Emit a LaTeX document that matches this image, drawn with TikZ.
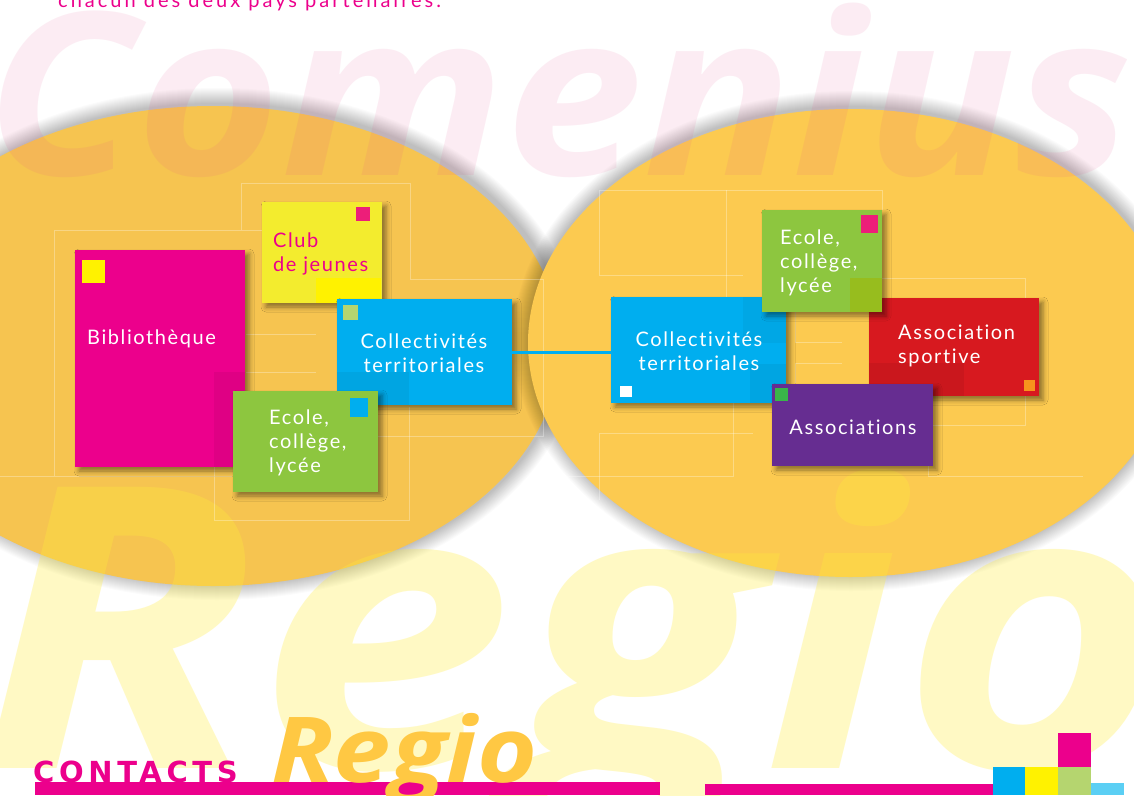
\documentclass[tikz,border=0pt]{standalone}
\usepackage{fontspec}
\usepackage{graphicx}
\setmainfont{Lato}
\newfontfamily\bigfont{Open Sans}
\newfontfamily\boxfont[LetterSpace=8,Ligatures=NoCommon]{Lato}
\newfontfamily\topfont[LetterSpace=15,Ligatures=NoCommon]{Lato}
\newfontfamily\contfont[LetterSpace=16]{DejaVu Sans}
\usetikzlibrary{shadows.blur}
\definecolor{mag}{HTML}{EC008C}
\definecolor{clubyel}{HTML}{F3EC2E}
\definecolor{puryel}{HTML}{FFF200}
\definecolor{cya}{HTML}{00AEEF}
\definecolor{grn}{HTML}{8DC63F}
\definecolor{rd}{HTML}{D7191F}
\definecolor{pur}{HTML}{662D91}
\definecolor{sqmag}{HTML}{ED1E79}
\definecolor{lgrn}{HTML}{B5D56F}
\definecolor{orng}{HTML}{F7941D}
\definecolor{sqgrn}{HTML}{39B54A}
\definecolor{olive}{HTML}{97BD1E}
\definecolor{ellL}{HTML}{F6C450}
\definecolor{ellR}{HTML}{FCCA50}
\definecolor{regsmall}{HTML}{FFC843}
\definecolor{lblue}{HTML}{5BCFF4}
\definecolor{cpink}{HTML}{E64C8C}
\definecolor{ryel}{HTML}{FFED3C}
\tikzset{
  box/.style={rectangle, inner sep=0pt, outer sep=0pt, anchor=north west,
    blur shadow={shadow xshift=4pt, shadow yshift=-4pt, shadow blur radius=5pt, shadow opacity=45}},
  txt/.style={font=\boxfont\fontsize{20}{24}\selectfont, text=white, inner sep=0pt, anchor=base west},
  faint/.style={draw=white, draw opacity=0.3, line width=0.7pt},
  glow/.style={fill=black, fill opacity=0.014}
}
\begin{document}
\begin{tikzpicture}[x=1pt, y=-1pt]
\useasboundingbox (0,0) rectangle (1134,795);
\clip (0,0) rectangle (1134,795);
\fill[white] (0,0) rectangle (1134,795);
% ellipses with soft glow
\foreach \i in {1,...,16} {
  \fill[glow] (217,344) ellipse [x radius={347+\i}, y radius={240+\i}];
}
\fill[ellL] (213,346) ellipse [x radius=347pt, y radius=240pt];
\foreach \i in {1,...,16} {
  \fill[glow] (851,341) ellipse [x radius={322+\i}, y radius={234+\i}];
}
\fill[ellR] (850,343) ellipse [x radius=322pt, y radius=234pt];
% big background words
\node[font=\bigfont\bfseries\itshape\fontsize{227}{227}\selectfont, text=cpink, opacity=0.1, inner sep=0pt, anchor=base west] (comenius) at (-15,175) {\scalebox{1.09}[1]{Comenius}};
\node[font=\bigfont\bfseries\itshape\fontsize{394}{394}\selectfont, text=ryel, opacity=0.3, inner sep=0pt, anchor=base west] (regiobig) at (-24,768) {\scalebox{1.17}[1]{Regio}};
% top text
\node[font=\topfont\fontsize{20}{22}\selectfont, text=mag, inner sep=0pt, anchor=base west] (toptext) at (58,7.5) {chacun des deux pays partenaires.};
% faint frame lines
\draw[faint] (0,476) -- (232,476);
\draw[faint] (54,476) -- (54,230) -- (262,230);
\draw[faint] (241,230) -- (241,183) -- (410,183) -- (410,279);
\draw[faint] (410,279) -- (543,279) -- (543,436) -- (377,436);
\draw[faint] (246,334) -- (316,334);
\draw[faint] (246,372) -- (316,372);
\draw[faint] (214,372) -- (214,520) -- (409,520) -- (409,407);
\draw[faint] (599,275) -- (599,190) -- (882,190) -- (882,210);
\draw[faint] (599,275) -- (743,275);
\draw[faint] (726,190) -- (726,343);
\draw[faint] (853,278) -- (1025,278) -- (1025,425) -- (900,425);
\draw[faint] (560,476) -- (733,476) -- (733,403);
\draw[faint] (928,393) -- (928,476) -- (1083,476);
\draw[faint] (599,500) -- (599,433) -- (753,433);
\draw[faint] (795,312) -- (795,342) -- (842,342);
\draw[faint] (795,383) -- (795,363) -- (842,363);
% left group
\node[box, fill=mag, minimum width=170pt, minimum height=217pt] (bib) at (75,250) {};
\fill[puryel] (82,260) rectangle (105,283);
\fill[black, opacity=0.05] (214,372) rectangle (245,467);
\node[txt] (bibt) at (87,344) {Bibliothèque};
\node[box, fill=clubyel, minimum width=120pt, minimum height=101pt] (club) at (262,202) {};
\fill[sqmag] (356,207) rectangle (370,221);
\fill[puryel] (316,278) rectangle (381,303);
\node[txt, text=mag] (clubt1) at (273,247) {Club};
\node[txt, text=mag] (clubt2) at (273,271) {de jeunes};
\node[box, fill=cya, minimum width=175pt, minimum height=106pt] (colL) at (337,299) {};
\fill[lgrn] (343,305) rectangle (358,320);
\fill[black, opacity=0.05] (337,372) rectangle (409,405);
\node[txt, anchor=base] (colLt1) at (424,348) {Collectivités};
\node[txt, anchor=base] (colLt2) at (424,372) {territoriales};
\node[box, fill=grn, minimum width=145pt, minimum height=101pt] (ecoL) at (233,391) {};
\fill[cya] (350,398) rectangle (368,417);
\node[txt] (ecoLt1) at (269,424) {Ecole,};
\node[txt] (ecoLt2) at (269,448) {collège,};
\node[txt] (ecoLt3) at (269,472) {lycée};
% right group
\node[box, fill=cya, minimum width=175pt, minimum height=106pt] (colR) at (611,297) {};
\fill[white] (620,386) rectangle (632,397);
\fill[black, opacity=0.04] (743,297) rectangle (786,343);
\fill[black, opacity=0.05] (750,364) rectangle (786,403);
\node[txt, anchor=base] (colRt1) at (699,346) {Collectivités};
\node[txt, anchor=base] (colRt2) at (699,370) {territoriales};
\node[box, fill=rd, minimum width=170pt, minimum height=98pt] (asp) at (869,298) {};
\fill[orng] (1024,380) rectangle (1035,391);
\fill[black, opacity=0.06] (869,363) rectangle (964,396);
\node[txt] (aspt1) at (898,339) {Association};
\node[txt] (aspt2) at (898,363) {sportive};
\node[box, fill=grn, minimum width=120pt, minimum height=102pt] (ecoR) at (762,210) {};
\fill[sqmag] (861,215) rectangle (878,233);
\fill[olive] (850,278) rectangle (882,312);
\node[txt] (ecoRt1) at (780,244) {Ecole,};
\node[txt] (ecoRt2) at (780,268) {collège,};
\node[txt] (ecoRt3) at (780,292) {lycée};
\node[box, fill=pur, minimum width=161pt, minimum height=82pt] (assoc) at (772,384) {};
\fill[sqgrn] (775,388) rectangle (788,401);
\node[txt, anchor=base] (assoct) at (853,434) {Associations};
% connector
\draw[cya, line width=3pt] (colL.east) -- (colL.east -| colR.west);
% bottom
\fill[mag] (35,782) rectangle (660,795);
\fill[mag] (705,784) rectangle (993,795);
\fill[cya] (993,767) rectangle (1025,795);
\fill[puryel] (1025,767) rectangle (1058,795);
\fill[lgrn] (1058,767) rectangle (1091,795);
\fill[mag] (1058,733) rectangle (1091,767);
\fill[lblue] (1091,783) rectangle (1124,795);
\node[font=\contfont\bfseries\fontsize{29}{29}\selectfont, text=mag, inner sep=0pt, anchor=base west] (contacts) at (33,782) {CONTACTS};
\node[font=\bigfont\bfseries\itshape\fontsize{91}{91}\selectfont, text=regsmall, inner sep=0pt, anchor=base west] (regiosmall) at (271,782) {\scalebox{1.13}[1]{Regio}};
\end{tikzpicture}
\end{document}
